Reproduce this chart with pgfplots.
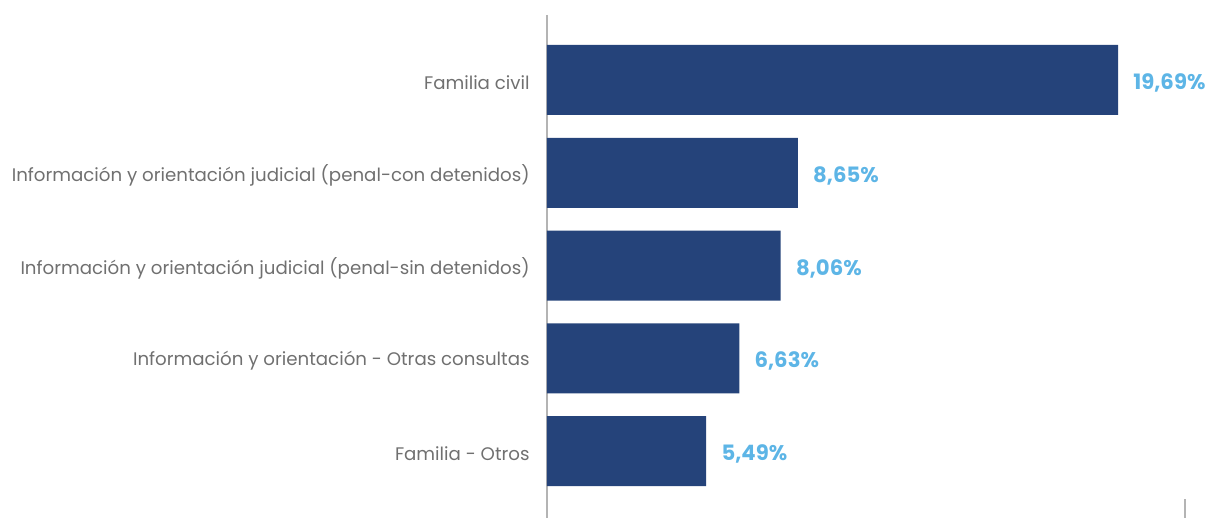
\documentclass[border=0pt]{standalone}
\usepackage{pgfplots}
\pgfplotsset{compat=1.18}
\usepackage{fontspec}
\setmainfont{Poppins}
\definecolor{barblue}{HTML}{25437A}
\definecolor{vallabel}{HTML}{5DB5E6}
\definecolor{catgray}{HTML}{707070}
\definecolor{axgray}{HTML}{B4B4B4}
\begin{document}
\begin{tikzpicture}
\begin{axis}[
  scale only axis,
  width=319pt, height=251.5pt,
  xbar, bar width=35pt,
  xmin=0, xmax=22,
  ymin=-0.70, ymax=4.72,
  y dir=reverse,
  axis y line*=left,
  axis x line*=bottom,
  x axis line style={draw=none},
  y axis line style={draw=axgray, line width=0.6pt, -},
  xtick={22}, xticklabels={},
  x tick style={draw=axgray, line width=0.6pt},
  major tick length=9.5pt,
  ytick={0,1,2,3,4},
  y tick style={draw=none},
  yticklabels={Familia civil,
    Información y orientación judicial (penal-con detenidos),
    Información y orientación judicial (penal-sin detenidos),
    Información y orientación - Otras consultas,
    Familia - Otros},
  yticklabel style={font=\fontsize{9.1}{11}\selectfont, text=catgray, inner sep=0pt, xshift=-8.5pt+9.5pt, yshift=-1.2pt},
  point meta=x,
  nodes near coords={\pgfmathprintnumber[fixed,fixed zerofill,precision=2,use comma,assume math mode=true]{\pgfplotspointmeta}\%},
  nodes near coords style={font=\bfseries\fontsize{10.6}{12}\selectfont, text=vallabel, anchor=west, inner sep=0pt, xshift=7.5pt, yshift=-1.5pt},
  clip=false,
]
\addplot[fill=barblue, draw=none] coordinates {
  (19.69,0) (8.65,1) (8.06,2) (6.63,3) (5.49,4)
};
\end{axis}
\pgfresetboundingbox
\path[use as bounding box] ([xshift=-273.5pt]current axis.south west) rectangle ([xshift=13.5pt,yshift=7.5pt]current axis.north east);
\end{tikzpicture}
\end{document}
